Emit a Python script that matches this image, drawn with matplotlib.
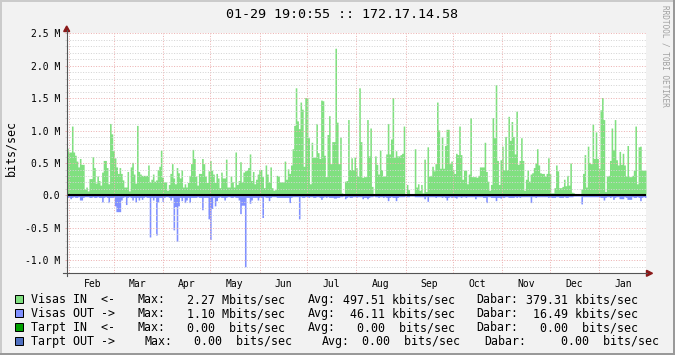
import datetime as dt
import numpy as np
import matplotlib
matplotlib.use("Agg")
import matplotlib.pyplot as plt
import matplotlib.dates as mdates
from matplotlib.ticker import FixedLocator, MultipleLocator, FuncFormatter, NullFormatter
from matplotlib.patches import Polygon, Rectangle
from matplotlib.lines import Line2D

# ---------------- data ----------------
title = "01-29 19:0:55 :: 172.17.14.58"
y_label = "bits/sec"
watermark = "RRDTOOL / TOBI OETIKER"
period_start = dt.datetime(2006, 1, 30, 12, 0)
period_end = dt.datetime(2007, 1, 30, 12, 0)

# daily averages, Mbits/sec
visas_in = [
    0.73, 0.67, 0.67, 1.07, 0.67, 0.62, 0.53, 0.44, 0.57, 0.48,
    0.48, 0.10, 0.13, 0.07, 0.26, 0.26, 0.60, 0.43, 0.19, 0.30,
    0.23, 0.16, 0.36, 0.54, 0.54, 0.43, 0.18, 1.11, 0.95, 0.69,
    0.58, 0.44, 0.34, 0.43, 0.34, 0.24, 0.13, 0.13, 0.37, 0.07,
    0.44, 0.51, 0.33, 0.19, 1.08, 0.37, 0.33, 0.31, 0.31, 0.31,
    0.31, 0.47, 0.21, 0.25, 0.33, 0.22, 0.24, 0.40, 0.45, 0.70,
    0.28, 0.21, 0.21, 0.08, 0.17, 0.34, 0.49, 0.27, 0.18, 0.43,
    0.35, 0.27, 0.40, 0.13, 0.18, 0.13, 0.20, 0.31, 0.49, 0.71,
    0.57, 0.30, 0.16, 0.34, 0.34, 0.57, 0.49, 0.30, 0.20, 0.38,
    0.54, 0.39, 0.33, 0.20, 0.34, 0.27, 0.12, 0.36, 0.27, 0.27,
    0.56, 0.13, 0.13, 0.30, 0.21, 0.13, 0.67, 0.17, 0.23, 0.52,
    0.21, 0.36, 0.38, 0.39, 0.43, 0.64, 0.23, 0.37, 0.18, 0.25,
    0.33, 0.40, 0.40, 0.29, 0.12, 0.47, 0.33, 0.21, 0.44, 0.12,
    0.08, 0.09, 0.31, 0.30, 0.21, 0.21, 0.21, 0.53, 0.25, 0.41,
    0.34, 0.47, 0.72, 1.08, 1.66, 1.15, 1.03, 1.44, 1.33, 0.45,
    1.51, 1.51, 0.89, 0.18, 0.82, 0.59, 0.59, 1.11, 0.66, 0.57,
    1.47, 1.46, 0.62, 0.29, 0.94, 1.23, 0.49, 0.83, 0.83, 2.27,
    1.13, 0.49, 0.90, 0.04, 0.00, 0.22, 0.23, 1.17, 0.40, 0.58,
    0.40, 0.59, 0.43, 0.30, 1.66, 0.83, 0.28, 0.29, 0.29, 1.17,
    0.61, 1.04, 0.14, 0.02, 0.61, 0.48, 0.33, 0.70, 0.40, 0.30,
    0.30, 0.64, 1.11, 0.64, 0.87, 1.51, 0.59, 0.69, 0.61, 0.61,
    0.63, 0.65, 1.07, 0.02, 0.17, 0.09, 0.03, 0.00, 0.00, 0.72,
    0.13, 0.18, 0.08, 0.17, 0.04, 0.56, 0.06, 0.75, 0.30, 0.31,
    0.45, 0.38, 0.49, 1.44, 1.01, 0.42, 0.91, 0.42, 0.77, 1.02,
    1.02, 0.49, 0.53, 0.40, 0.34, 0.65, 0.63, 1.07, 0.63, 0.25,
    0.39, 0.39, 0.18, 0.33, 1.20, 0.29, 0.29, 0.29, 0.28, 0.31,
    0.44, 0.44, 0.44, 0.82, 0.37, 0.22, 0.08, 0.17, 1.20, 0.89,
    1.71, 0.54, 0.17, 0.55, 0.76, 0.40, 0.91, 0.40, 1.22, 0.85,
    1.14, 0.91, 0.64, 1.30, 0.48, 0.54, 0.89, 0.54, 0.08, 0.25,
    0.39, 0.22, 0.33, 0.35, 0.43, 0.50, 0.72, 0.47, 0.35, 0.34,
    0.34, 0.30, 0.34, 0.58, 0.34, 0.04, 0.04, 0.12, 0.47, 0.38,
    0.12, 0.12, 0.14, 0.25, 0.15, 0.31, 0.16, 0.50, 0.05, 0.04,
    0.00, 0.00, 0.00, 0.00, 0.10, 0.34, 0.63, 0.13, 0.76, 0.51,
    0.49, 1.10, 0.57, 0.98, 0.57, 0.42, 1.32, 1.51, 1.17, 0.06,
    0.30, 0.31, 0.54, 1.04, 0.71, 1.17, 0.55, 0.47, 0.68, 0.48,
    0.65, 0.47, 0.30, 0.77, 0.29, 0.29, 0.31, 0.39, 1.07, 0.18,
    0.75, 0.76, 0.39, 0.39, 0.39,
]

visas_out = [
    0.03, 0.03, 0.05, 0.03, 0.02, 0.03, 0.03, 0.02, 0.07, 0.07,
    0.03, 0.02, 0.02, 0.02, 0.03, 0.03, 0.02, 0.03, 0.03, 0.02,
    0.03, 0.03, 0.10, 0.03, 0.02, 0.03, 0.11, 0.03, 0.03, 0.03,
    0.16, 0.25, 0.25, 0.25, 0.07, 0.03, 0.02, 0.14, 0.03, 0.02,
    0.03, 0.07, 0.03, 0.10, 0.03, 0.07, 0.03, 0.06, 0.03, 0.02,
    0.03, 0.03, 0.64, 0.03, 0.07, 0.03, 0.61, 0.10, 0.03, 0.03,
    0.09, 0.03, 0.02, 0.02, 0.03, 0.07, 0.03, 0.53, 0.17, 0.71,
    0.16, 0.03, 0.08, 0.03, 0.11, 0.07, 0.03, 0.11, 0.03, 0.03,
    0.03, 0.03, 0.02, 0.03, 0.03, 0.22, 0.03, 0.03, 0.03, 0.36,
    0.68, 0.20, 0.03, 0.16, 0.08, 0.03, 0.02, 0.03, 0.03, 0.07,
    0.03, 0.02, 0.02, 0.03, 0.03, 0.02, 0.03, 0.03, 0.07, 0.28,
    0.15, 0.15, 1.10, 0.03, 0.03, 0.12, 0.07, 0.03, 0.03, 0.03,
    0.07, 0.03, 0.03, 0.34, 0.02, 0.03, 0.03, 0.08, 0.03, 0.02,
    0.02, 0.02, 0.03, 0.03, 0.03, 0.03, 0.03, 0.03, 0.03, 0.03,
    0.11, 0.03, 0.02, 0.02, 0.02, 0.02, 0.36, 0.02, 0.03, 0.03,
    0.02, 0.02, 0.03, 0.02, 0.02, 0.03, 0.03, 0.02, 0.02, 0.03,
    0.06, 0.03, 0.02, 0.03, 0.02, 0.03, 0.03, 0.03, 0.04, 0.04,
    0.03, 0.03, 0.02, 0.02, 0.01, 0.05, 0.03, 0.02, 0.03, 0.03,
    0.02, 0.02, 0.03, 0.02, 0.02, 0.02, 0.05, 0.03, 0.03, 0.05,
    0.03, 0.02, 0.02, 0.01, 0.02, 0.02, 0.03, 0.02, 0.02, 0.03,
    0.02, 0.03, 0.08, 0.03, 0.02, 0.03, 0.03, 0.08, 0.03, 0.02,
    0.02, 0.02, 0.02, 0.01, 0.02, 0.02, 0.01, 0.01, 0.01, 0.02,
    0.02, 0.02, 0.02, 0.02, 0.02, 0.05, 0.02, 0.09, 0.02, 0.02,
    0.02, 0.02, 0.03, 0.02, 0.02, 0.02, 0.03, 0.02, 0.03, 0.07,
    0.03, 0.02, 0.03, 0.02, 0.03, 0.04, 0.02, 0.02, 0.03, 0.02,
    0.02, 0.03, 0.02, 0.02, 0.02, 0.02, 0.02, 0.05, 0.02, 0.02,
    0.02, 0.02, 0.03, 0.03, 0.11, 0.02, 0.02, 0.03, 0.03, 0.03,
    0.08, 0.03, 0.03, 0.04, 0.03, 0.03, 0.02, 0.02, 0.03, 0.03,
    0.03, 0.03, 0.02, 0.03, 0.02, 0.03, 0.02, 0.02, 0.02, 0.02,
    0.02, 0.02, 0.11, 0.02, 0.02, 0.03, 0.02, 0.02, 0.02, 0.02,
    0.02, 0.02, 0.02, 0.03, 0.02, 0.03, 0.03, 0.03, 0.02, 0.02,
    0.03, 0.03, 0.03, 0.02, 0.03, 0.03, 0.02, 0.02, 0.02, 0.01,
    0.01, 0.01, 0.01, 0.01, 0.13, 0.02, 0.02, 0.02, 0.02, 0.02,
    0.02, 0.02, 0.02, 0.02, 0.02, 0.02, 0.03, 0.03, 0.07, 0.03,
    0.02, 0.02, 0.03, 0.02, 0.06, 0.03, 0.02, 0.02, 0.05, 0.05,
    0.05, 0.02, 0.03, 0.06, 0.06, 0.06, 0.02, 0.03, 0.03, 0.02,
    0.03, 0.08, 0.03, 0.02, 0.03,
]

y_ticks = [-1.0, -0.5, 0.0, 0.5, 1.0, 1.5, 2.0, 2.5]
y_min, y_max = -1.2, 2.5

series_names = ["Visas IN  <-", "Visas OUT ->", "Tarpt IN  <-", "Tarpt OUT ->"]
series_colors = ["#80E080", "#8090FF", "#00A000", "#5070C0"]
max_vals = [2.27, 1.10, 0.00, 0.00]
max_prefix = ["M", "M", " ", " "]
avg_vals = [497.51, 46.11, 0.00, 0.00]
avg_prefix = ["k", "k", " ", " "]
cur_vals = [379.31, 16.49, 0.00, 0.00]
cur_prefix = ["k", "k", " ", " "]

# ---------------- style ----------------
W, H, DPI = 675, 355, 100
BACK = "#F2F2F2"
GRID = "#D4D4D4"
MGRID = "#EDB2B2"
AXIS = "#555555"
ARROW = "#8B1A1A"
MONO = "DejaVu Sans Mono"
plt.rcParams["font.family"] = MONO


def fx(x):
    return x / W


def fy(y):
    return 1 - y / H


fig = plt.figure(figsize=(W / DPI, H / DPI), dpi=DPI, facecolor=BACK)

L, R, T, B = 66.7, 646.0, 33.3, 273.3
ax = fig.add_axes([fx(L), fy(B), (R - L) / W, (B - T) / H])
ax.set_facecolor("white")

n = len(visas_in)
edges = mdates.date2num([period_start + dt.timedelta(days=i) for i in range(n + 1)])
yin = np.append(np.array(visas_in), visas_in[-1])
m = len(visas_out)
edges_o = mdates.date2num([period_start + dt.timedelta(days=i) for i in range(m + 1)])
yout = -np.append(np.array(visas_out), visas_out[-1])

ax.fill_between(edges, 0, yin, step="post", color=series_colors[0], lw=0, zorder=1)
ax.fill_between(edges_o, 0, yout, step="post", color=series_colors[1], lw=0, zorder=1)
ax.axhline(0, color="black", lw=1.5, zorder=4)

ax.set_xlim(mdates.date2num(period_start), mdates.date2num(period_end))
ax.set_ylim(y_min, y_max)

for s in ax.spines.values():
    s.set_visible(False)

ax.set_axisbelow(False)
ax.yaxis.set_major_locator(FixedLocator(y_ticks))
ax.yaxis.set_minor_locator(MultipleLocator(0.1))
ax.yaxis.set_major_formatter(FuncFormatter(lambda v, p: "0.0" if abs(v) < 1e-9 else f"{v:.1f} M"))
dot = (0, (1, 1.6))
ax.grid(True, which="minor", axis="y", color=GRID, lw=0.72, ls=dot, zorder=3)
ax.grid(True, which="major", axis="y", color=MGRID, lw=0.72, ls=dot, zorder=3)

ax.xaxis.set_major_locator(mdates.MonthLocator())
ax.xaxis.set_minor_locator(mdates.MonthLocator(bymonthday=16))
ax.xaxis.set_major_formatter(NullFormatter())
ax.xaxis.set_minor_formatter(mdates.DateFormatter("%b"))
ax.grid(True, which="major", axis="x", color=MGRID, lw=0.72, ls=dot, zorder=3)

ax.tick_params(axis="y", which="major", direction="out", length=1.5, width=0.72,
               color=MGRID, labelsize=7, pad=3.0)
ax.tick_params(axis="y", which="minor", direction="out", length=1.5, width=0.72, color=GRID)
ax.tick_params(axis="x", which="major", length=0)
ax.tick_params(axis="x", which="minor", length=0, labelsize=7, pad=4.0)

# axes lines and arrows
fig.add_artist(Line2D([fx(63), fx(647)], [fy(B), fy(B)], color=AXIS, lw=0.8))
fig.add_artist(Line2D([fx(L), fx(L)], [fy(B + 3), fy(30)], color=AXIS, lw=0.8))
fig.add_artist(Polygon([[fx(646.5), fy(B - 3)], [fx(652.5), fy(B)], [fx(646.5), fy(B + 3)]],
                       closed=True, transform=fig.transFigure, color=ARROW))
fig.add_artist(Polygon([[fx(L - 3), fy(31.5)], [fx(L), fy(26.0)], [fx(L + 3), fy(31.5)]],
                       closed=True, transform=fig.transFigure, color=ARROW))

# 3D frame
fig.add_artist(Line2D([0, 1], [fy(0.7), fy(0.7)], color="#CBCBCB", lw=1.44))
fig.add_artist(Line2D([fx(0.7), fx(0.7)], [0, 1], color="#CBCBCB", lw=1.44))
fig.add_artist(Line2D([0, 1], [fy(354.2), fy(354.2)], color="#999999", lw=1.44))
fig.add_artist(Line2D([fx(674.2), fx(674.2)], [0, 1], color="#999999", lw=1.44))

# texts
fig.text(fx(341.5), fy(18.3), title, ha="center", va="baseline", fontsize=9.6, family=MONO)
fig.text(fx(10.5), fy(148), y_label, rotation=90, ha="center", va="center", fontsize=8.4, family=MONO)
fig.text(fx(665.5), fy(5), watermark, rotation=270, ha="center", va="top",
         fontsize=5.6, color="#A0A0A0", family=MONO)

# legend
row_base = [303.3, 317.2, 331.1, 345.0]
for i in range(4):
    yb = row_base[i]
    fig.add_artist(Rectangle((fx(15.3), fy(yb)), 8 / W, 8 / H, transform=fig.transFigure,
                             facecolor=series_colors[i], edgecolor="black", lw=0.72))
    if i < 3:
        pieces = [
            (30.7, series_names[i]),
            (137.3, "Max:"),
            (186.7, f"{max_vals[i]:4.2f} {max_prefix[i]}bits/sec"),
            (307.3, "Avg:"),
            (342.7, f"{avg_vals[i]:6.2f} {avg_prefix[i]}bits/sec"),
            (476.7, "Dabar:"),
            (525.7, f"{cur_vals[i]:6.2f} {cur_prefix[i]}bits/sec"),
        ]
    else:
        pieces = [
            (30.7, series_names[i]),
            (144.3, "Max:"),
            (193.7, f"{max_vals[i]:4.2f} {max_prefix[i]}bits/sec"),
            (322.0, "Avg:"),
            (362.0, f"{avg_vals[i]:4.2f} {avg_prefix[i]}bits/sec"),
            (484.7, "Dabar:"),
            (561.0, f"{cur_vals[i]:4.2f} {cur_prefix[i]}bits/sec"),
        ]
    for x, s in pieces:
        fig.text(fx(x), fy(yb), s, ha="left", va="baseline", fontsize=8.4, family=MONO)

fig.savefig("out.png", dpi=DPI, facecolor=BACK)
